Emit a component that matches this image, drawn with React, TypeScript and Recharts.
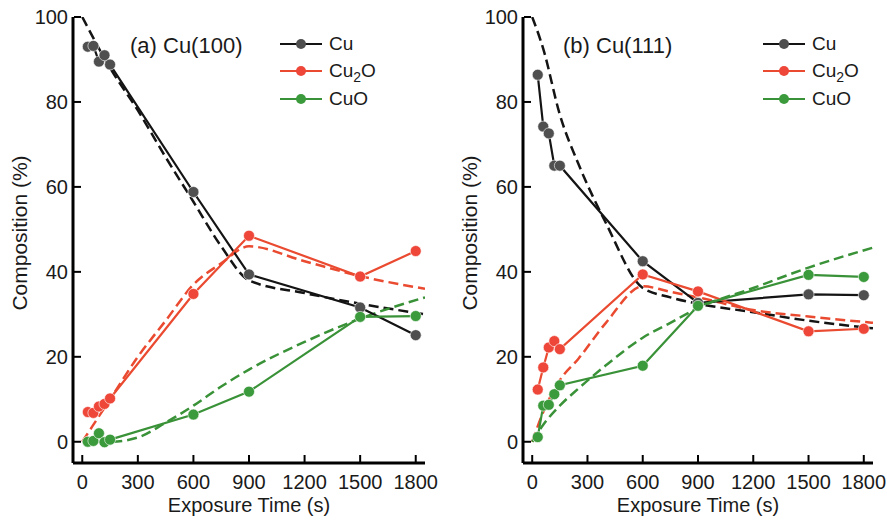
import React from 'react';
import { LineChart, Line, XAxis, YAxis, Legend } from 'recharts';

const FONT = '"Liberation Sans", Arial, Helvetica, sans-serif';

// measurement times (s)
const TIMES = [30, 60, 90, 120, 150, 600, 900, 1500, 1800];
const X_TICKS = [0, 300, 600, 900, 1200, 1500, 1800];
const Y_TICKS = [0, 20, 40, 60, 80, 100];

// (a) Cu(100) measured composition (%)
const CU_A = [93, 93.2, 89.5, 91, 88.8, 58.8, 39.4, 31.6, 25.1];
const CU2O_A = [7, 6.8, 8.3, 8.9, 10.2, 34.8, 48.5, 38.9, 44.9];
const CUO_A = [0, 0.2, 2, -0.1, 0.5, 6.4, 11.8, 29.4, 29.6];

// (a) model curves
const FIT_T_A = [0, 150, 300, 450, 600, 750, 900, 1200, 1500, 1850];
const FIT_CU_A = [100, 88, 78, 67, 56.5, 46, 38, 35, 32.5, 30];
const FIT_CU2O_A = [0, 10, 20, 28.5, 37, 42, 46, 42.5, 39, 36];
const FIT_CUO_A = [0, 0, 1, 4.5, 8.5, 13, 17, 23.5, 29, 34];

// (b) Cu(111) measured composition (%)
const CU_B = [86.4, 74.2, 72.6, 65, 65, 42.5, 32.7, 34.7, 34.5];
const CU2O_B = [12.3, 17.5, 22.2, 23.7, 21.8, 39.4, 35.4, 26, 26.6];
const CUO_B = [1.1, 8.5, 8.7, 11.2, 13.3, 17.9, 32, 39.3, 38.8];

// (b) model curves
const FIT_T_B = [0, 60, 150, 250, 400, 600, 750, 900, 1200, 1500, 1850];
const FIT_CU_B = [100, 92.5, 77, 65.5, 51.5, 36.2, 34, 32.5, 30.5, 28.5, 26.7];
const FIT_CU2O_B = [0, 7, 14.5, 19.5, 28, 36.6, 35.3, 34, 31, 29.5, 28];
const FIT_CUO_B = [0, 4, 8.5, 12.5, 18, 24.5, 28, 31.5, 36.2, 41, 45.7];

const COLORS = {
  cu: { line: '#141414', dot: '#4f4f4f' },
  cu2o: { line: '#ea4a30', dot: '#ee4638' },
  cuo: { line: '#3a9238', dot: '#3b9a3b' },
};

const pts = (ts: number[], vs: number[]) => ts.map((t, i) => ({ t, v: vs[i] }));

const BottomTick = (p: any) => (
  <g>
    <line x1={p.x} x2={p.x} y1={p.y - 1} y2={p.y - 8} stroke="#000" strokeWidth={2} />
    <text x={p.x} y={p.y + 26} textAnchor="middle" fontSize={20} fontFamily={FONT} fill="#1a1a1a">
      {p.payload.value}
    </text>
  </g>
);
const TopTick = (p: any) => (
  <line x1={p.x} x2={p.x} y1={p.y + 1} y2={p.y + 8} stroke="#000" strokeWidth={2} />
);
const LeftTick = (p: any) => (
  <g>
    <line x1={p.x + 1} x2={p.x + 8} y1={p.y} y2={p.y} stroke="#000" strokeWidth={2} />
    <text x={p.x - 5} y={p.y + 7} textAnchor="end" fontSize={20} fontFamily={FONT} fill="#1a1a1a">
      {p.payload.value}
    </text>
  </g>
);
const RightTick = (p: any) => (
  <line x1={p.x - 1} x2={p.x - 8} y1={p.y} y2={p.y} stroke="#000" strokeWidth={2} />
);

const XLabel = (p: any) => {
  const vb = p.viewBox || {};
  return (
    <text x={vb.x + vb.width / 2} y={512} textAnchor="middle" fontSize={20} fontFamily={FONT} fill="#1a1a1a">
      Exposure Time (s)
    </text>
  );
};
const YLabel = (p: any) => {
  const vb = p.viewBox || {};
  const cx = vb.x + 27;
  const cy = 233;
  return (
    <text x={cx} y={cy} transform={`rotate(-90 ${cx} ${cy})`} textAnchor="middle" fontSize={21} fontFamily={FONT} fill="#1a1a1a">
      Composition (%)
    </text>
  );
};

const LABELS: Record<string, React.ReactNode> = {
  Cu: 'Cu',
  Cu2O: (
    <>
      Cu<sub style={{ fontSize: 14, verticalAlign: -5, lineHeight: 0 }}>2</sub>O
    </>
  ),
  CuO: 'CuO',
};

const renderLegend = (props: any) => {
  const items = (props.payload || []).filter((e: any) => LABELS[e.value] !== undefined);
  return (
    <div style={{ fontFamily: FONT, fontSize: 19, color: '#1a1a1a' }}>
      {items.map((e: any) => (
        <div key={e.value} style={{ display: 'flex', alignItems: 'center', height: 27.5 }}>
          <svg width={42} height={14} style={{ marginRight: 7 }}>
            <line x1={0} x2={42} y1={7} y2={7} stroke={e.payload?.stroke || e.color} strokeWidth={2.2} />
            <circle cx={21} cy={7} r={5} fill={e.payload?.dot?.fill || e.color} />
          </svg>
          <span style={{ lineHeight: '20px' }}>{LABELS[e.value]}</span>
        </div>
      ))}
    </div>
  );
};

type PanelProps = {
  title: string;
  titleX: number;
  width: number;
  rightMargin: number;
  legendLeft: number;
  cu: number[];
  cu2o: number[];
  cuo: number[];
  fitT: number[];
  fitCu: number[];
  fitCu2o: number[];
  fitCuo: number[];
};

function Panel(p: PanelProps) {
  const axisLine = { stroke: '#000', strokeWidth: 3 };
  const fitLine = (key: string, ts: number[], vs: number[], color: string) => (
    <Line
      key={key}
      name={key}
      data={pts(ts, vs)}
      dataKey="v"
      type="monotone"
      stroke={color}
      strokeWidth={2.5}
      strokeDasharray="10 5"
      dot={false}
      activeDot={false}
      legendType="none"
      isAnimationActive={false}
    />
  );
  const measLine = (name: string, vs: number[], c: { line: string; dot: string }) => (
    <Line
      key={name}
      name={name}
      data={pts(TIMES, vs)}
      dataKey="v"
      type="linear"
      stroke={c.line}
      strokeWidth={2.2}
      dot={{ r: 5.5, fill: c.dot, stroke: '#ffffff', strokeWidth: 0.6 }}
      activeDot={false}
      isAnimationActive={false}
    />
  );
  return (
    <LineChart width={p.width} height={527} margin={{ top: 17, right: p.rightMargin, bottom: 0, left: 0 }}>
      <XAxis
        xAxisId="b"
        dataKey="t"
        type="number"
        domain={[-50, 1850]}
        ticks={X_TICKS}
        allowDataOverflow
        height={64}
        axisLine={axisLine}
        tickLine={false}
        tickSize={0}
        tickMargin={0}
        tick={BottomTick}
        label={XLabel}
      />
      <XAxis
        xAxisId="top"
        orientation="top"
        dataKey="t"
        type="number"
        domain={[-50, 1850]}
        ticks={X_TICKS}
        allowDataOverflow
        height={0}
        axisLine={axisLine}
        tickLine={false}
        tickSize={0}
        tickMargin={0}
        tick={TopTick}
      />
      <YAxis
        yAxisId="l"
        type="number"
        domain={[-5, 100]}
        ticks={Y_TICKS}
        allowDataOverflow
        width={73}
        axisLine={axisLine}
        tickLine={false}
        tickSize={0}
        tickMargin={0}
        tick={LeftTick}
        label={YLabel}
      />
      <YAxis
        yAxisId="r"
        orientation="right"
        type="number"
        domain={[-5, 100]}
        ticks={Y_TICKS}
        allowDataOverflow
        width={0}
        axisLine={axisLine}
        tickLine={false}
        tickSize={0}
        tickMargin={0}
        tick={RightTick}
      />
      {[
        fitLine('Cu fit', p.fitT, p.fitCu, COLORS.cu.line),
        fitLine('Cu2O fit', p.fitT, p.fitCu2o, COLORS.cu2o.line),
        fitLine('CuO fit', p.fitT, p.fitCuo, COLORS.cuo.line),
        measLine('Cu', p.cu, COLORS.cu),
        measLine('Cu2O', p.cu2o, COLORS.cu2o),
        measLine('CuO', p.cuo, COLORS.cuo),
      ].map((el) => React.cloneElement(el, { xAxisId: 'b', yAxisId: 'l' }))}
      <Legend
        layout="vertical"
        align="center"
        verticalAlign="middle"
        content={renderLegend}
        wrapperStyle={{ left: p.legendLeft, top: 30, width: 130, height: 90 }}
      />
      <text x={p.titleX} y={53} fontSize={22} fontFamily={FONT} fill="#1a1a1a">
        {p.title}
      </text>
    </LineChart>
  );
}

export default function App() {
  return (
    <div style={{ position: 'absolute', left: 0, top: 0, width: 887, height: 527, background: '#fff' }}>
      <div style={{ position: 'absolute', left: 0, top: 0 }}>
        <Panel
          title="(a) Cu(100)"
          titleX={130}
          width={443}
          rightMargin={18}
          legendLeft={280}
          cu={CU_A}
          cu2o={CU2O_A}
          cuo={CUO_A}
          fitT={FIT_T_A}
          fitCu={FIT_CU_A}
          fitCu2o={FIT_CU2O_A}
          fitCuo={FIT_CUO_A}
        />
      </div>
      <div style={{ position: 'absolute', left: 450, top: 0 }}>
        <Panel
          title="(b) Cu(111)"
          titleX={113}
          width={437}
          rightMargin={14}
          legendLeft={313}
          cu={CU_B}
          cu2o={CU2O_B}
          cuo={CUO_B}
          fitT={FIT_T_B}
          fitCu={FIT_CU_B}
          fitCu2o={FIT_CU2O_B}
          fitCuo={FIT_CUO_B}
        />
      </div>
    </div>
  );
}
